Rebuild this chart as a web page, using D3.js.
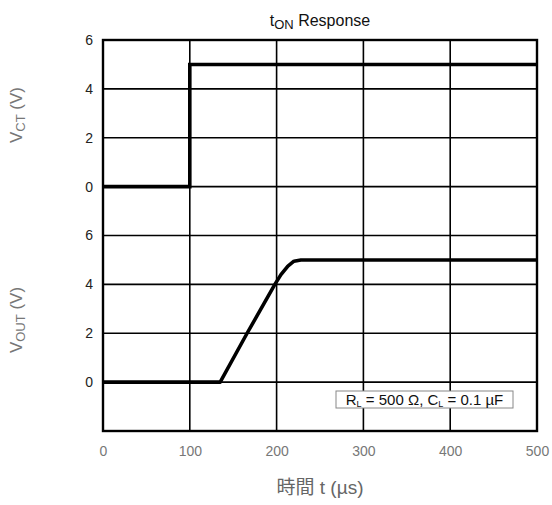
<!DOCTYPE html>
<html><head><meta charset="utf-8">
<script src="https://cdn.jsdelivr.net/npm/d3@7"></script>
<style>
body{margin:0;background:#fff;}
svg{display:block;font-family:Arial,"Liberation Sans",sans-serif;}
</style></head>
<body>
<svg id="c" width="552" height="505"></svg>
<script>
// ---- data ----
const xTicks = [0, 100, 200, 300, 400, 500];
const yTicks = [0, 2, 4, 6];
const vctT = [0, 100, 100, 500];
const vctV = [0, 0, 5, 5];
const voutT = [0, 135, 166, 198, 205, 213, 220, 228, 500];
const voutV = [0, 0, 2, 4, 4.4, 4.75, 4.95, 5, 5];
const legendText = ["R", "L", " = 500 Ω, C", "L", " = 0.1 µF"];

const svg = d3.select("#c");
const L = 103, R = 537, T = 40, M = 235.5, B = 431;
const x = d3.scaleLinear().domain([0, 500]).range([L, R]);
const yTop = d3.scaleLinear().domain([-2, 6]).range([M, T]);
const yBot = d3.scaleLinear().domain([-2, 6]).range([B, M]);

const g = svg.append("g");
g.selectAll("line.vx").data(xTicks.slice(1, -1)).join("line")
  .attr("x1", d => x(d)).attr("x2", d => x(d)).attr("y1", T).attr("y2", B)
  .attr("stroke", "#000").attr("stroke-width", 1.6);
[yTop, yBot].forEach(ys => {
  g.selectAll(null).data([-2, 0, 2, 4]).join("line")
    .attr("x1", L).attr("x2", R).attr("y1", d => ys(d)).attr("y2", d => ys(d))
    .attr("stroke", "#000").attr("stroke-width", 1.6);
});
g.append("rect").attr("x", L).attr("y", T).attr("width", R - L).attr("height", B - T)
  .attr("fill", "none").attr("stroke", "#000").attr("stroke-width", 2.4);

const lineTop = d3.line().x(d => x(d[0])).y(d => yTop(d[1]));
const lineBot = d3.line().x(d => x(d[0])).y(d => yBot(d[1]));
svg.append("path").attr("d", lineTop(vctT.map((t, i) => [t, vctV[i]])))
  .attr("fill", "none").attr("stroke", "#000").attr("stroke-width", 3.6);
svg.append("path").attr("d", lineBot(voutT.map((t, i) => [t, voutV[i]])))
  .attr("fill", "none").attr("stroke", "#000").attr("stroke-width", 3.6).attr("stroke-linejoin", "round");

[yTop, yBot].forEach(ys => {
  const a = svg.append("g").attr("transform", `translate(${L},0)`)
    .call(d3.axisLeft(ys).tickValues(yTicks).tickSize(0).tickPadding(10).tickFormat(d3.format("d")));
  a.select(".domain").remove();
  a.selectAll("text").attr("font-size", 14).attr("fill", "#222").style("font-family", "Arial, 'Liberation Sans', sans-serif");
});
const ax = svg.append("g").attr("transform", `translate(0,${B})`)
  .call(d3.axisBottom(x).tickValues(xTicks).tickSize(0).tickPadding(15));
ax.select(".domain").remove();
ax.selectAll("text").attr("font-size", 14).attr("fill", "#777").style("font-family", "Arial, 'Liberation Sans', sans-serif");

const title = svg.append("text").attr("x", (L + R) / 2).attr("y", 26).attr("text-anchor", "middle")
  .attr("font-size", 16).attr("fill", "#111");
title.append("tspan").text("t");
title.append("tspan").text("ON").attr("font-size", 13).attr("dy", 3);
title.append("tspan").text(" Response").attr("dy", -3);

function yTitle(sub, cy) {
  const t = svg.append("text").attr("transform", `translate(22,${cy}) rotate(-90)`)
    .attr("text-anchor", "middle").attr("font-size", 17).attr("fill", "#777");
  t.append("tspan").text("V");
  t.append("tspan").text(sub).attr("font-size", 13).attr("dy", 3);
  t.append("tspan").text(" (V)").attr("dy", -3);
}
yTitle("CT", 115);
yTitle("OUT", 320);

svg.append("text").attr("x", (L + R) / 2).attr("y", 494).attr("text-anchor", "middle")
  .attr("font-size", 19).attr("fill", "#666")
  .style("font-family", "Arial, 'Liberation Sans', 'Noto Sans CJK JP', sans-serif")
  .text("時間 t (µs)");

const lg = svg.append("g");
lg.append("rect").attr("x", 336).attr("y", 391).attr("width", 177).attr("height", 17)
  .attr("fill", "#fff").attr("stroke", "#888").attr("stroke-width", 1);
const lt = lg.append("text").attr("x", 424.5).attr("y", 405).attr("text-anchor", "middle")
  .attr("font-size", 15).attr("fill", "#111");
legendText.forEach((s, i) => {
  const sp = lt.append("tspan").text(s);
  if (i % 2 === 1) sp.attr("font-size", 9).attr("dy", 2);
  else if (i > 0) sp.attr("dy", -2);
});
</script>
</body></html>
